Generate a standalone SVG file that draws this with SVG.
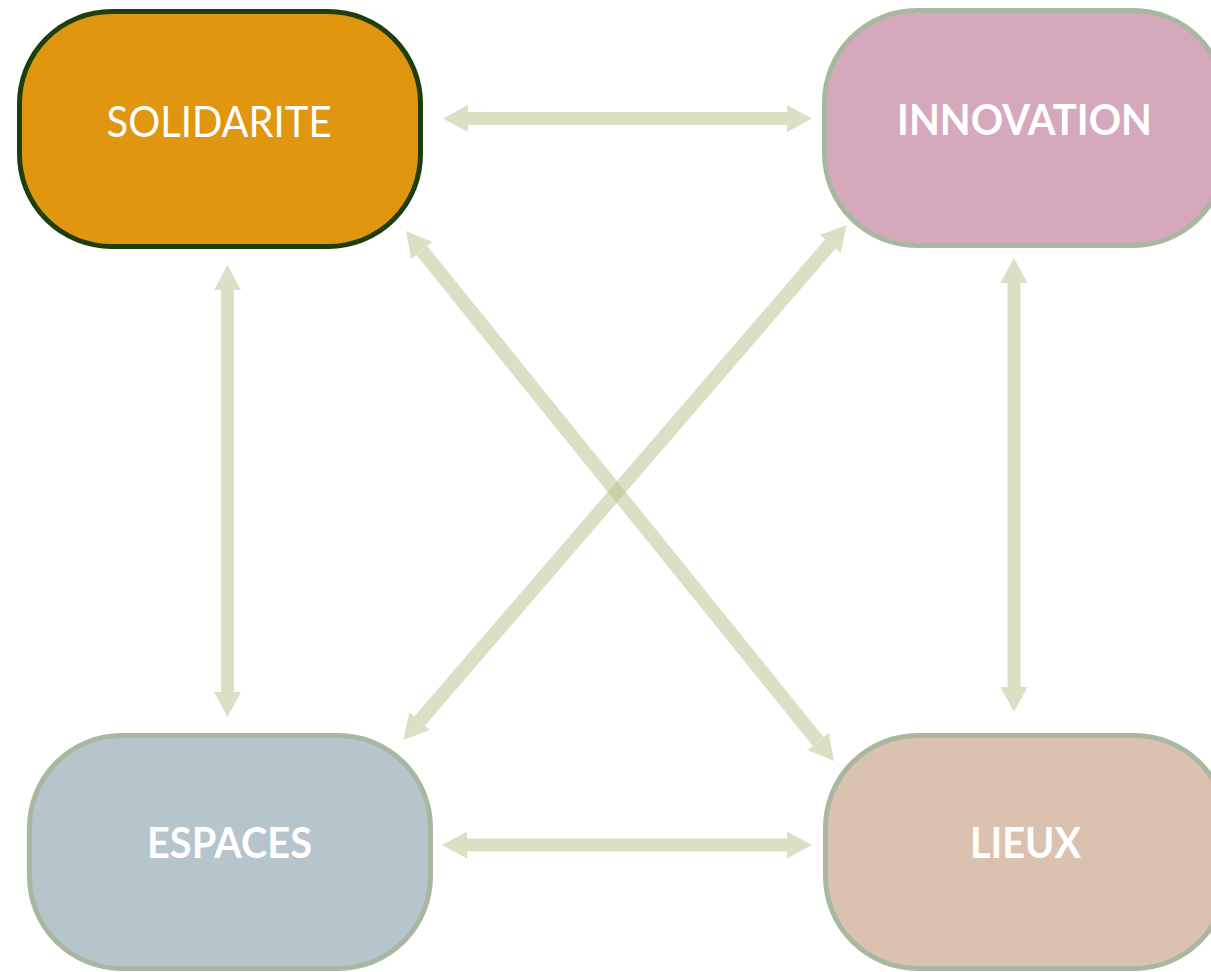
<svg xmlns="http://www.w3.org/2000/svg" width="1211" height="972" viewBox="0 0 1211 972">
<style>
.node{stroke-width:5}
.pale{stroke:#a8b8a0}
.lbl{font-family:Lato,"Open Sans","Liberation Sans",sans-serif;font-size:42px;fill:#ffffff;text-anchor:middle}
.bold{font-weight:bold}
.conn{stroke:#b9c38b;stroke-width:13;fill:none;marker-start:url(#head);marker-end:url(#head)}
.diag{stroke-width:14}
.ar{opacity:0.5}
</style>
<defs>
<marker id="head" markerUnits="userSpaceOnUse" viewBox="0 0 25 27" refX="0" refY="13.5" markerWidth="25" markerHeight="27" orient="auto-start-reverse" overflow="visible">
<path d="M0,0 L25,13.5 L0,27 Z" fill="#b9c38b"/>
</marker>
</defs>
<rect width="1211" height="972" fill="#ffffff"/>
<g id="connectors">
<g class="ar"><line class="conn" x1="468" y1="118.5" x2="787" y2="118.5"/></g>
<g class="ar"><line class="conn" x1="467" y1="845" x2="787" y2="845"/></g>
<g class="ar"><line class="conn" x1="227.5" y1="290" x2="227.5" y2="692"/></g>
<g class="ar"><line class="conn" x1="1014" y1="283" x2="1014" y2="687"/></g>
<g class="ar"><line class="conn diag" x1="421.7" y1="250.4" x2="818.3" y2="741.6"/></g>
<g class="ar"><line class="conn diag" x1="830.4" y1="243.9" x2="419.6" y2="721.1"/></g>
</g>
<g id="solidarite">
<rect class="node" x="19.5" y="11.5" width="401" height="235" rx="92" ry="92" fill="#e0960f" stroke="#1e3f0a"/>
<text class="lbl" x="219" y="137" textLength="225" lengthAdjust="spacingAndGlyphs">SOLIDARITE</text>
</g>
<g id="innovation">
<rect class="node pale" x="824.5" y="10.5" width="401" height="235" rx="92" ry="92" fill="#d5a8bc"/>
<text class="lbl bold" x="1024.5" y="135" textLength="255" lengthAdjust="spacingAndGlyphs">INNOVATION</text>
</g>
<g id="espaces">
<rect class="node pale" x="29.5" y="735.5" width="401" height="233" rx="92" ry="92" fill="#b6c4cb"/>
<text class="lbl bold" x="229.5" y="858" textLength="165" lengthAdjust="spacingAndGlyphs">ESPACES</text>
</g>
<g id="lieux">
<rect class="node pale" x="825.5" y="735.5" width="401" height="233" rx="92" ry="92" fill="#dbc2b0"/>
<text class="lbl bold" x="1025.5" y="858" textLength="111" lengthAdjust="spacingAndGlyphs">LIEUX</text>
</g>
</svg>
